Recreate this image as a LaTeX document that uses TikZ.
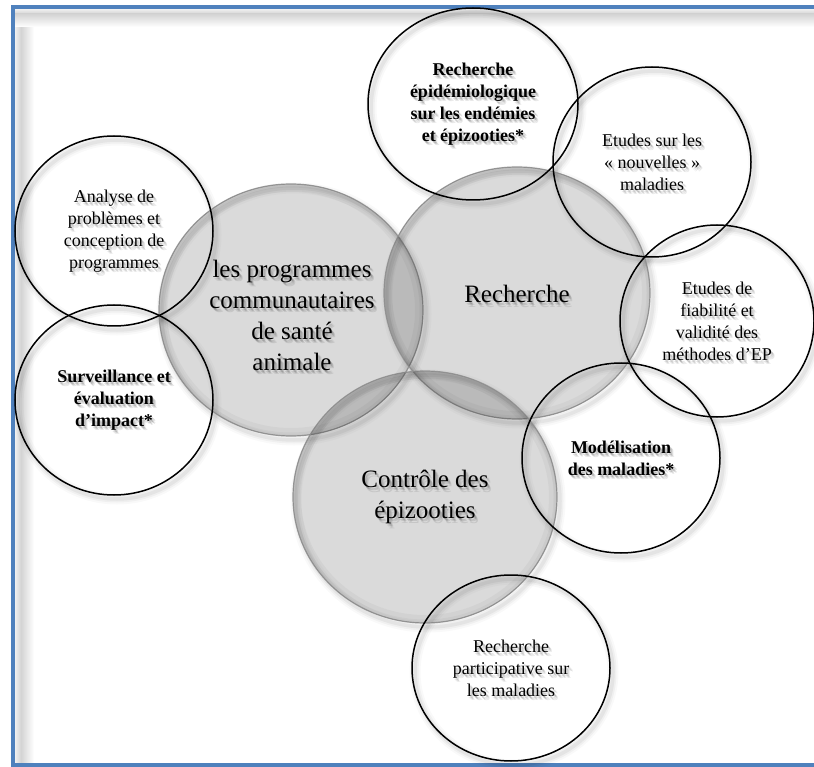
\documentclass[tikz,border=0pt]{standalone}
\usepackage{fontspec}
\setmainfont{Liberation Serif}
\usetikzlibrary{shapes.geometric}
\definecolor{frameblue}{RGB}{79,129,189}

\tikzset{
  txtsmall/.style={font=\fontsize{18}{22}\selectfont, align=center},
  txtbold/.style={font=\bfseries\fontsize{18}{22}\selectfont, align=center},
  txtlarge/.style={font=\fontsize{25}{31}\selectfont, align=center},
  ring/.style={ellipse, draw=black, line width=1.5pt, inner sep=0pt, text=black},
  disc/.style={ellipse, inner sep=0pt, fill=black, fill opacity=0.145,
    draw=black!40, draw opacity=1, line width=1.2pt},
}

% soft drop shadow behind a text block
\newcommand\textshade[4]{%
  \node[#3, text=black, text opacity=0.09] (#1-s1) at ([xshift=3.5pt,yshift=-4.5pt]#2) {#4};
  \node[#3, text=black, text opacity=0.11] (#1-s2) at ([xshift=2.5pt,yshift=-3.3pt]#2) {#4};
  \node[#3, text=black, text opacity=0.13] (#1-s3) at ([xshift=1.5pt,yshift=-2.2pt]#2) {#4};
}
% soft drop shadow of an outline
\newcommand\ringshade[3]{%
  \foreach \w/\a in {11/0.025, 7/0.035, 3.5/0.05}
    \draw[black, draw opacity=\a, line width=\w pt]
      ([xshift=3pt,yshift=-4pt]#1) ellipse [x radius=#2pt, y radius=#3pt];
}
% darker rim on the inside of a disc
\newcommand\innerrim[3]{%
  \begin{scope}
    \clip (#1) ellipse [x radius=#2pt, y radius=#3pt];
    \draw[black, draw opacity=0.035, line width=16pt] (#1) ellipse [x radius=#2pt, y radius=#3pt];
    \draw[black, draw opacity=0.035, line width=7pt] (#1) ellipse [x radius=#2pt, y radius=#3pt];
  \end{scope}
}

\begin{document}
\begin{tikzpicture}[x=1pt, y=-1pt]
  \useasboundingbox (0,0) rectangle (814,767);

  % page frame with inner shadow
  \fill[left color=black!6, right color=black!17] (15,9) rectangle (21,765);
  \fill[left color=black!17, right color=white] (21,9) rectangle (34,765);
  \fill[top color=black!6, bottom color=black!17] (15,9) rectangle (814,14);
  \fill[top color=black!17, bottom color=white] (15,14) rectangle (814,27);
  \draw[frameblue, line width=4pt] (818,7) -- (13,7) -- (13,765) -- (818,765);

  % centres
  \coordinate (cProg) at (291,310);
  \coordinate (cRech) at (517,293);
  \coordinate (cCtrl) at (425,497);
  \coordinate (cAnal) at (114,231);
  \coordinate (cSurv) at (114,400);
  \coordinate (cEpid) at (473,104);
  \coordinate (cNouv) at (652,162);
  \coordinate (cFiab) at (717,321);
  \coordinate (cModl) at (621,458);
  \coordinate (cPart) at (511,668);

  \coordinate (tProg) at (292,315);
  \coordinate (tRech) at (517,294);
  \coordinate (tCtrl) at (425,497);

  % outline shadows
  \ringshade{cProg}{132}{126}
  \ringshade{cRech}{133}{126}
  \ringshade{cCtrl}{132}{126}
  \ringshade{cAnal}{99}{95}
  \ringshade{cSurv}{99}{95}
  \ringshade{cEpid}{105}{96}
  \ringshade{cNouv}{99}{95}
  \ringshade{cFiab}{97}{96}
  \ringshade{cModl}{99}{95}
  \ringshade{cPart}{99}{93}

  % text shadows
  \textshade{shProg}{tProg}{txtlarge}{les programmes\\communautaires\\de santé\\animale}
  \textshade{shRech}{tRech}{txtlarge}{Recherche}
  \textshade{shCtrl}{tCtrl}{txtlarge}{Contrôle des\\épizooties}
  \textshade{shAnal}{cAnal}{txtsmall}{Analyse de\\problèmes et\\conception de\\programmes}
  \textshade{shSurv}{cSurv}{txtbold}{Surveillance et\\évaluation\\d’impact*}
  \textshade{shEpid}{cEpid}{txtbold}{Recherche\\épidémiologique\\sur les endémies\\et épizooties*}
  \textshade{shNouv}{cNouv}{txtsmall}{Etudes sur les\\« nouvelles »\\maladies}
  \textshade{shFiab}{cFiab}{txtsmall}{Etudes de\\fiabilité et\\validité des\\méthodes d’EP}
  \textshade{shModl}{cModl}{txtbold}{Modélisation\\des maladies*}
  \textshade{shPart}{cPart}{txtsmall}{Recherche\\participative sur\\les maladies}

  % the three overlapping domains
  \node[disc, minimum width=264pt, minimum height=252pt] (prog) at (cProg) {};
  \node[disc, minimum width=266pt, minimum height=252pt] (rech) at (cRech) {};
  \node[disc, minimum width=264pt, minimum height=252pt] (ctrl) at (cCtrl) {};
  \innerrim{cProg}{132}{126}
  \innerrim{cRech}{133}{126}
  \innerrim{cCtrl}{132}{126}

  % surrounding activities
  \node[ring, txtsmall, minimum width=198pt, minimum height=190pt] (anal) at (cAnal)
    {Analyse de\\problèmes et\\conception de\\programmes};
  \node[ring, txtbold, minimum width=198pt, minimum height=190pt] (surv) at (cSurv)
    {Surveillance et\\évaluation\\d’impact*};
  \node[ring, txtbold, minimum width=210pt, minimum height=192pt] (epid) at (cEpid)
    {Recherche\\épidémiologique\\sur les endémies\\et épizooties*};
  \node[ring, txtsmall, minimum width=198pt, minimum height=190pt] (nouv) at (cNouv)
    {Etudes sur les\\« nouvelles »\\maladies};
  \node[ring, txtsmall, minimum width=194pt, minimum height=192pt] (fiab) at (cFiab)
    {Etudes de\\fiabilité et\\validité des\\méthodes d’EP};
  \node[ring, txtbold, minimum width=198pt, minimum height=190pt] (modl) at (cModl)
    {Modélisation\\des maladies*};
  \node[ring, txtsmall, minimum width=198pt, minimum height=186pt] (part) at (cPart)
    {Recherche\\participative sur\\les maladies};

  % domain titles
  \node[txtlarge] (progtxt) at (tProg) {les programmes\\communautaires\\de santé\\animale};
  \node[txtlarge] (rechtxt) at (tRech) {Recherche};
  \node[txtlarge] (ctrltxt) at (tCtrl) {Contrôle des\\épizooties};
\end{tikzpicture}
\end{document}
